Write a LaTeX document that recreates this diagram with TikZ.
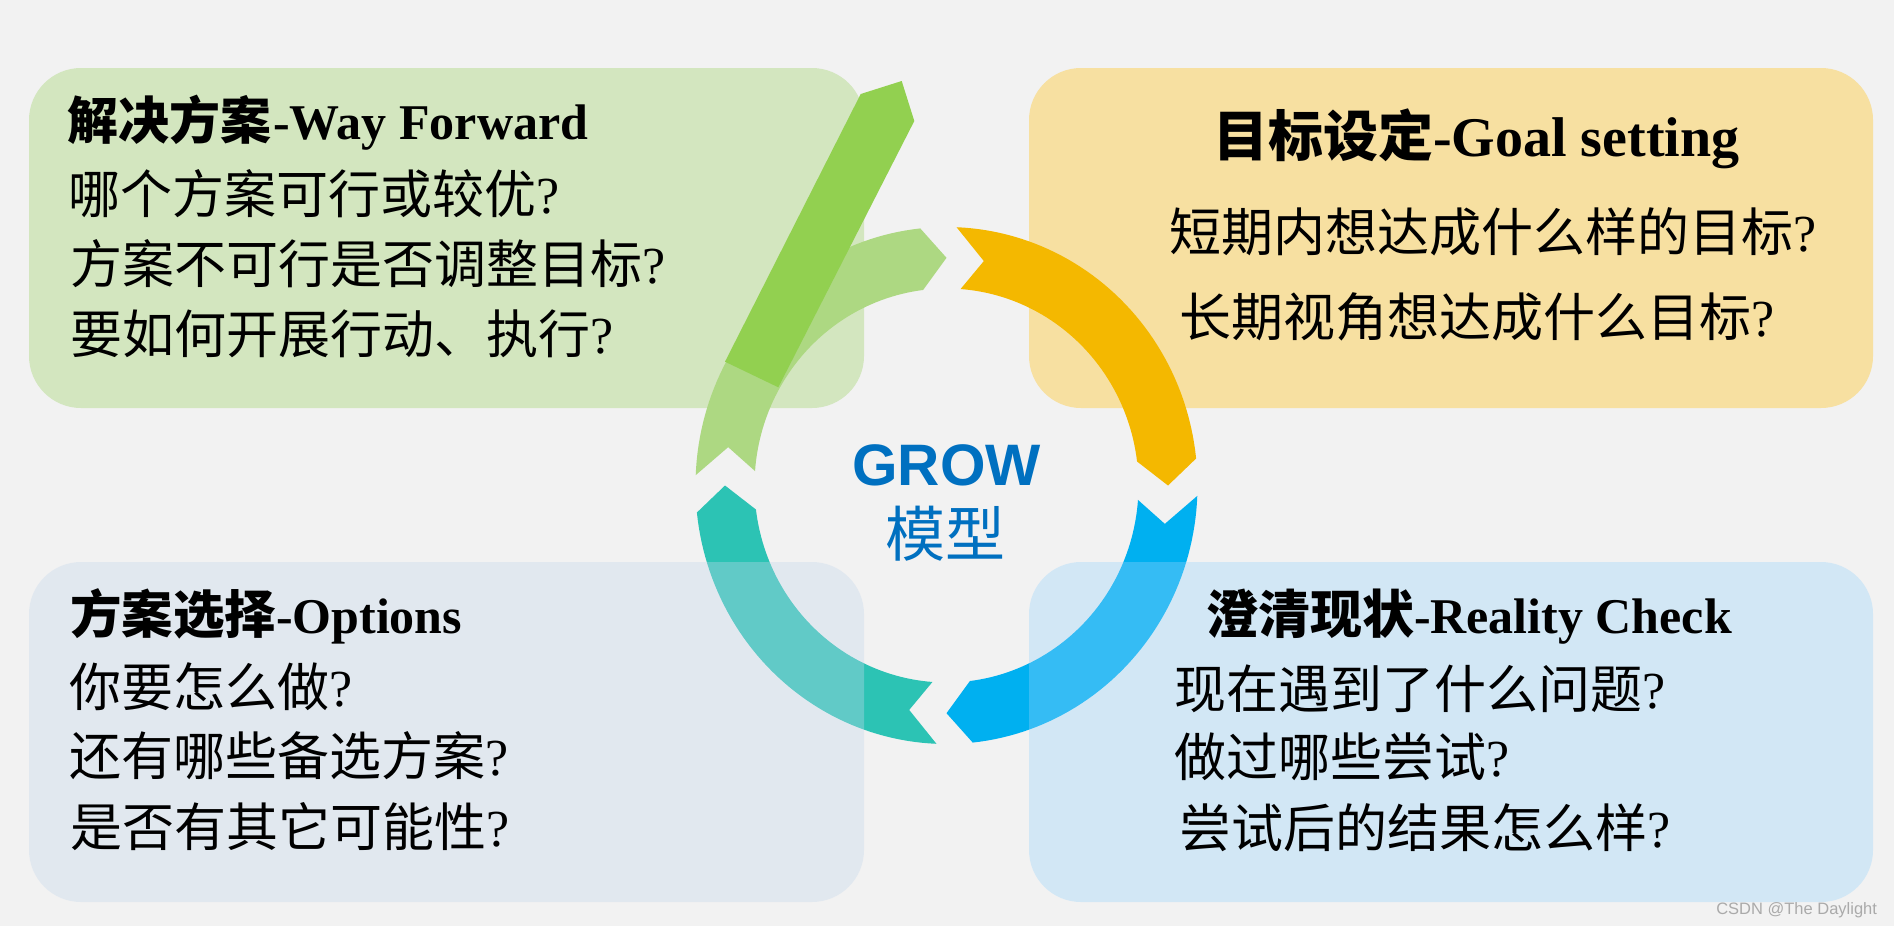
\documentclass[tikz,border=0pt]{standalone}
\usepackage{fontspec}
\setmainfont{Liberation Serif}
\newfontfamily\zhfont{Noto Sans CJK SC}
\newfontfamily\grofont{Liberation Sans}
\definecolor{bgc}{RGB}{242,242,242}
\definecolor{boxtl}{RGB}{211,230,191}
\definecolor{boxtr}{RGB}{247,224,161}
\definecolor{boxbl}{RGB}{196,216,236}
\definecolor{boxbr}{RGB}{153,213,253}
\definecolor{ringyellow}{RGB}{244,184,0}
\definecolor{ringblue}{RGB}{0,176,240}
\definecolor{ringteal}{RGB}{44,195,180}
\definecolor{ringgreen}{RGB}{173,216,130}
\definecolor{bandgreen}{RGB}{146,208,80}
\definecolor{growblue}{RGB}{0,112,192}
\definecolor{wmgray}{RGB}{170,170,170}
\def\rcx{946.5}\def\rcy{485.5}
\def\rxo{251}\def\ryo{258.5}
\def\rxi{192}\def\ryi{197}
\def\rxm{221.5}\def\rym{227.7}
\newcommand\ringseg[2]{%
  \fill[#1] plot[domain=#2-2.3:#2-84,samples=50] ({\rcx+\rxo*cos(\x)},{\rcy-\ryo*sin(\x)})
    -- ({\rcx+\rxm*cos(#2-90)},{\rcy-\rym*sin(#2-90)})
    -- plot[domain=#2-83:#2-4.2,samples=50] ({\rcx+\rxi*cos(\x)},{\rcy-\ryi*sin(\x)})
    -- ({\rcx+\rxm*cos(#2-9.7)},{\rcy-\rym*sin(#2-9.7)}) -- cycle;}
\newcommand\qm{{\normalfont ?}}
\tikzset{
  every node/.style={inner sep=0pt, outer sep=0pt},
  bodyline/.style={anchor=base west, font=\zhfont\fontsize{52}{62}\selectfont},
  titleline/.style={anchor=base west},
  boxshape/.style={rounded corners=52pt},
}
\begin{document}
\begin{tikzpicture}[x=1pt,y=-1pt]
\useasboundingbox (0,0) rectangle (1894,926);
\fill[bgc] (0,0) rectangle (1894,926);
% ring segments lying under the lower boxes
\ringseg{ringblue}{0}
\ringseg{ringteal}{-90}
% boxes
\fill[boxtl, boxshape] (29,68) rectangle (864,408);
\fill[boxtr, boxshape] (1029,68) rectangle (1873,408);
\fill[boxbl, boxshape, fill opacity=0.35] (29,562) rectangle (864,902);
\fill[boxbr, boxshape, fill opacity=0.35] (1029,562) rectangle (1873,902);
% ring segments on top
\ringseg{ringyellow}{90}
\ringseg{ringgreen}{180}
\fill[bandgreen] (725,361.7) -- (860.7,94) -- (901.7,81) -- (914.3,121) -- (778.3,387.3) -- cycle;
% centre
\node[anchor=base, text=growblue, font=\grofont\bfseries\fontsize{58.5}{70}\selectfont] (grow) at (946.5,485.7) {GROW};
\node[anchor=base, text=growblue, font=\zhfont\fontsize{60}{70}\selectfont] (model) at (945.5,556) {模型};
% top left
\node[titleline] (tlT) at (67,139) {{\zhfont\bfseries\fontsize{51}{60}\selectfont 解决方案}\hspace{2pt}{\bfseries\fontsize{50}{58}\selectfont -Way Forward}};
\node[bodyline] (tl1) at (68,213.5) {哪个方案可行或较优\qm};
\node[bodyline] (tl2) at (70,283.5) {方案不可行是否调整目标\qm};
\node[bodyline] (tl3) at (70,353) {要如何开展行动、执行\qm};
% top right
\node[titleline] (trT) at (1213,156) {{\zhfont\bfseries\fontsize{55}{64}\selectfont 目标设定}{\bfseries\fontsize{56}{64}\selectfont -Goal setting}};
\node[bodyline] (tr1) at (1169,251) {短期内想达成什么样的目标\qm};
\node[bodyline] (tr2) at (1179,336) {长期视角想达成什么目标\qm};
% bottom left
\node[titleline] (blT) at (70,633) {{\zhfont\bfseries\fontsize{51.5}{60}\selectfont 方案选择}{\bfseries\fontsize{50}{58}\selectfont -Options}};
\node[bodyline] (bl1) at (69,706.5) {你要怎么做\qm};
\node[bodyline] (bl2) at (69,775.5) {还有哪些备选方案\qm};
\node[bodyline] (bl3) at (70,846.5) {是否有其它可能性\qm};
% bottom right
\node[titleline] (brT) at (1206,633) {{\zhfont\bfseries\fontsize{52}{60}\selectfont 澄清现状}{\bfseries\fontsize{50}{58}\selectfont -Reality Check}};
\node[bodyline] (br1) at (1174,708) {现在遇到了什么问题\qm};
\node[bodyline] (br2) at (1174,776.5) {做过哪些尝试\qm};
\node[bodyline] (br3) at (1179,847.5) {尝试后的结果怎么样\qm};
% watermark
\node[anchor=base east, text=wmgray, font=\grofont\fontsize{16.5}{20}\selectfont] (wm) at (1877,914) {CSDN @The Daylight};
\end{tikzpicture}
\end{document}
